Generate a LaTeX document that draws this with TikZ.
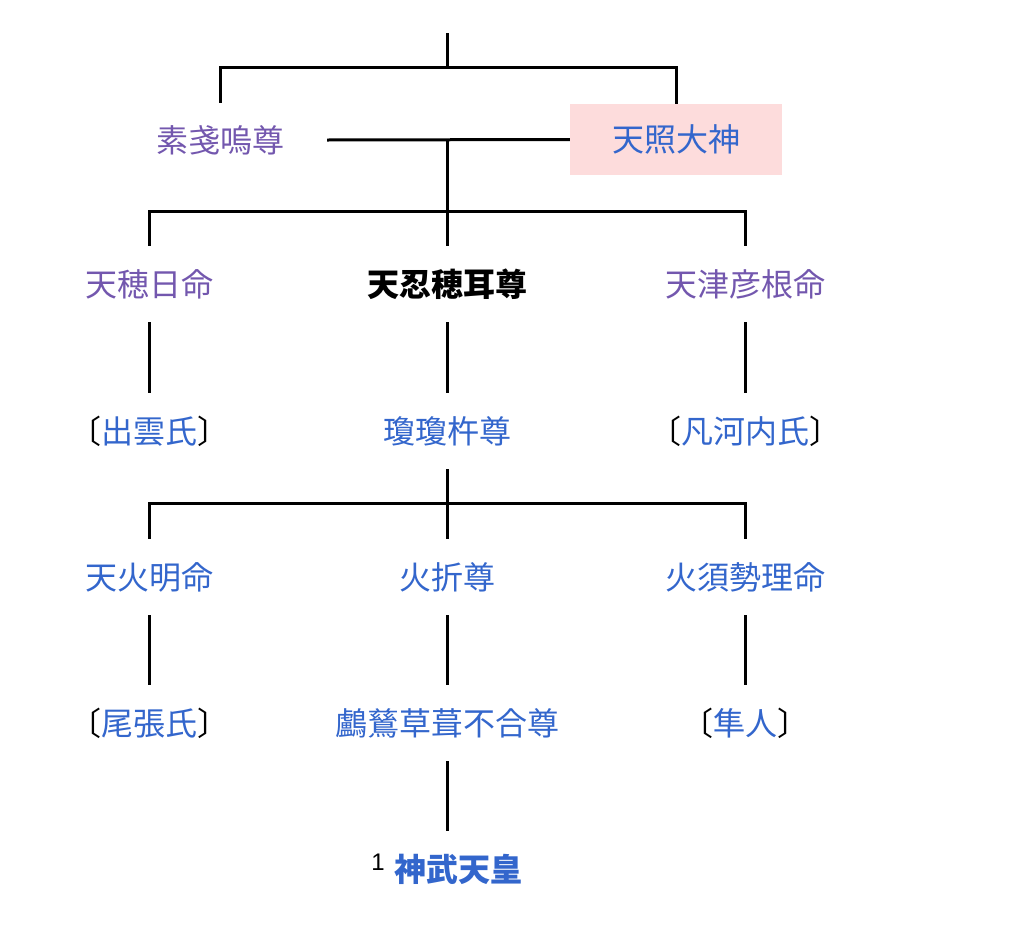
\documentclass[tikz,border=0pt]{standalone}
\usepackage{fontspec}
\setmainfont{Noto Sans CJK JP}
\newfontfamily\latinsans{Liberation Sans}
\usepackage{xcolor}
\usetikzlibrary{positioning}
\definecolor{linkblue}{HTML}{3366CC}
\definecolor{visited}{HTML}{7357AE}
\definecolor{hlpink}{HTML}{FDDCDC}
\newcommand{\clan}[1]{{\color{black}〔}#1{\color{black}〕}}

\begin{document}
\begin{tikzpicture}[x=1pt, y=-1pt,
    person/.style={minimum height=76pt, inner sep=0pt, align=center,
                   font=\fontsize{32}{38}\selectfont},
    link/.style={person, text=linkblue},
    vlink/.style={person, text=visited},
    branch/.style={draw=black, line width=3pt},
]
\useasboundingbox (0,0) rectangle (1024,945);

% Parents
\node[vlink, minimum height=74pt, minimum width=214pt] (susanoo) at (220,140) {素戔嗚尊};
\node[link, fill=hlpink, minimum width=212pt, minimum height=71pt] (amaterasu) at (676,139.5) {天照大神};

% First generation
\node[vlink] (hohi) at (149,284) {天穂日命};
\node[person, font=\fontsize{32}{38}\selectfont\bfseries] (oshiho) at (447,284) {天忍穂耳尊};
\node[vlink] (tsuhiko) at (745,284) {天津彦根命};

% Clans and Ninigi
\node[link] (izumo) at (149,431) {\clan{出雲氏}};
\node[link] (ninigi) at (447,431) {瓊瓊杵尊};
\node[link] (oshikochi) at (745,431) {\clan{凡河内氏}};

% Ninigi's sons
\node[link] (hoakari) at (149,577) {天火明命};
\node[link] (hoori) at (447,577) {火折尊};
\node[link] (hosuseri) at (745,577) {火須勢理命};

% Clans and Ugaya
\node[link] (owari) at (149,723) {\clan{尾張氏}};
\node[link] (ugaya) at (447,723) {鸕鶿草葺不合尊};
\node[link] (hayato) at (745,723) {\clan{隼人}};

% Jimmu
\node[link] (jimmu) at (447,869)
    {{\color{black}\latinsans\fontsize{24}{24}\selectfont\raisebox{11pt}{1}}\hspace{10pt}\textbf{神武天皇}};

% Junctions
\coordinate (root) at (447,33);
\coordinate (r1) at (447,67);
\coordinate (m) at (447,140);
\coordinate (j1) at (447,211);
\coordinate (j2) at (447,503);

% Lines
\draw[branch] (root) -- (r1);
\draw[branch] (susanoo.north) |- (r1) -| (amaterasu.north);
\draw[branch] (susanoo.east) -- (amaterasu.west);
\draw[branch] (m) -- (j1);
\draw[branch] (hohi.north) |- (j1) -| (tsuhiko.north);
\draw[branch] (j1) -- (oshiho.north);
\draw[branch] (hohi) -- (izumo);
\draw[branch] (oshiho) -- (ninigi);
\draw[branch] (tsuhiko) -- (oshikochi);
\draw[branch] (ninigi) -- (j2);
\draw[branch] (hoakari.north) |- (j2) -| (hosuseri.north);
\draw[branch] (j2) -- (hoori.north);
\draw[branch] (hoakari) -- (owari);
\draw[branch] (hoori) -- (ugaya);
\draw[branch] (hosuseri) -- (hayato);
\draw[branch] (ugaya) -- (jimmu);

\end{tikzpicture}
\end{document}
